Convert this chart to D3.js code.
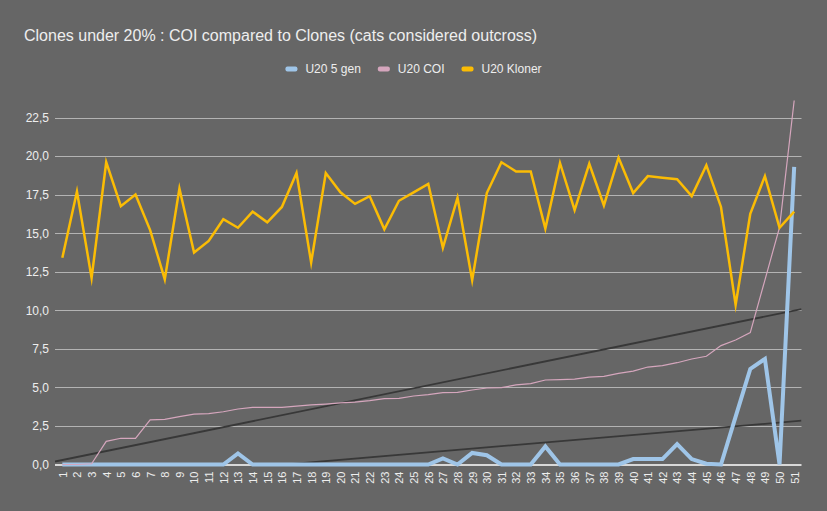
<!DOCTYPE html>
<html>
<head>
<meta charset="utf-8">
<script src="https://cdn.jsdelivr.net/npm/d3@7/dist/d3.min.js"></script>
<style>
  html, body { margin: 0; padding: 0; background: #666666; }
  svg { display: block; }
  text { font-family: "Liberation Sans", Arial, sans-serif; }
</style>
</head>
<body>
<svg id="chart" width="827" height="511"></svg>
<script>
const title = "Clones under 20% : COI compared to Clones (cats considered outcross)";
const categories = ["1","2","3","4","5","6","7","8","9","10","11","12","13","14","15","16","17","18","19","20","21","22","23","24","25","26","27","28","29","30","31","32","33","34","35","36","37","38","39","40","41","42","43","44","45","46","47","48","49","50","51"];
const seriesNames = ["U20 5 gen", "U20 COI", "U20 Kloner"];
const u20gen5 = [0,0,0,0,0,0,0,0,0,0,0,0,0.72,0,0,0,0,0,0,0,0,0,0,0,0,0,0.4,0,0.75,0.6,0,0,0,1.17,0,0,0,0,0,0.35,0.35,0.35,1.32,0.35,0.05,0,3.1,6.2,6.85,0,19.3];
const u20coi = [0,0,0.05,1.5,1.7,1.7,2.9,2.93,3.1,3.27,3.3,3.42,3.6,3.7,3.7,3.7,3.78,3.86,3.92,4.0,4.05,4.14,4.27,4.29,4.44,4.53,4.66,4.68,4.83,4.96,4.98,5.16,5.24,5.48,5.5,5.54,5.67,5.72,5.91,6.06,6.32,6.41,6.6,6.84,7.02,7.71,8.07,8.55,11.96,15.38,23.6];
const u20kloner = [13.4,17.7,12.1,19.6,16.75,17.5,15.2,12.0,17.9,13.75,14.5,15.9,15.35,16.4,15.7,16.7,18.9,13.1,18.9,17.65,16.9,17.4,15.25,17.1,17.65,18.2,14.05,17.3,11.95,17.6,19.6,19.0,19.0,15.3,19.55,16.5,19.5,16.8,19.9,17.6,18.7,18.6,18.5,17.4,19.4,16.7,10.35,16.25,18.7,15.35,16.4];
// linear trendlines: values at first and last category
const trendCoi = [0.29, 9.98];
const trendGen5 = [-1.23, 2.80];
const yTicks = [0, 2.5, 5, 7.5, 10, 12.5, 15, 17.5, 20, 22.5];

const colors = ["#9fc5e8", "#d5a6bd", "#fbbc04"];
const widths = [4, 1.2, 2.5];

const svg = d3.select("#chart");
const W = 827, H = 511;
const plot = { left: 55, right: 801.5, top: 117.5, bottom: 464.5 };

svg.append("rect").attr("width", W).attr("height", H).attr("fill", "#666666");

const x = d3.scalePoint().domain(categories).range([plot.left, plot.right]).padding(0.5);
const y = d3.scaleLinear().domain([0, 22.5]).range([plot.bottom, plot.top]);
const fmt = v => d3.format(".1f")(v).replace(".", ",");

// title
svg.append("text").attr("x", 24).attr("y", 41).attr("fill", "#eeeeee")
  .attr("font-size", 16).text(title);

// gridlines
svg.append("g").selectAll("line").data(yTicks.filter(t => t > 0)).join("line")
  .attr("x1", plot.left).attr("x2", plot.right)
  .attr("y1", d => Math.round(y(d)) + 0.5).attr("y2", d => Math.round(y(d)) + 0.5)
  .attr("stroke", "#b3b3b3").attr("stroke-width", 1);

// y axis labels
const yAxis = d3.axisLeft(y).tickValues(yTicks).tickFormat(fmt).tickSize(0).tickPadding(0);
const gy = svg.append("g").attr("transform", `translate(${plot.left - 6},0)`).call(yAxis);
gy.select(".domain").remove();
gy.selectAll("text").attr("fill", "#eeeeee").attr("font-size", 12)
  .attr("font-family", "'Liberation Sans', Arial, sans-serif");

// x axis
const xAxis = d3.axisBottom(x).tickSize(0).tickPadding(0);
const gx = svg.append("g").attr("transform", `translate(0,${plot.bottom})`).call(xAxis);
gx.select(".domain").remove();
gx.selectAll("text").attr("fill", "#eeeeee").attr("font-size", 11)
  .attr("font-family", "'Liberation Sans', Arial, sans-serif")
  .attr("text-anchor", "end")
  .attr("transform", "translate(0,7) rotate(-90)")
  .attr("x", 0).attr("y", 0).attr("dy", "0.35em");

// clip
svg.append("clipPath").attr("id", "clip").append("rect")
  .attr("x", plot.left).attr("y", 60).attr("width", plot.right - plot.left).attr("height", plot.bottom - 60);

// trendlines
const step = x.step();
const n = categories.length;
function trendSeg(ends) {
  const slope = (ends[1] - ends[0]) / (n - 1);
  const x0 = x(categories[0]) - step / 2, x1 = x(categories[n - 1]) + step / 2;
  const v0 = ends[0] - slope * 0.5, v1 = ends[1] + slope * 0.5;
  return [[x0, y(v0)], [x1, y(v1)]];
}
const tg = svg.append("g").attr("clip-path", "url(#clip)");
[trendCoi, trendGen5].forEach(t => {
  tg.append("path").attr("d", d3.line()(trendSeg(t)))
    .attr("fill", "none").attr("stroke", "#383838").attr("stroke-width", 1.8);
});

// baseline
svg.append("line").attr("x1", plot.left).attr("x2", plot.right)
  .attr("y1", plot.bottom + 0.5).attr("y2", plot.bottom + 0.5)
  .attr("stroke", "#ffffff").attr("stroke-width", 1.5);

// series
const allSeries = [u20gen5, u20coi, u20kloner];
const line = d3.line().x((d, i) => x(categories[i])).y(d => y(d));
allSeries.forEach((s, k) => {
  svg.append("path").datum(s).attr("d", line)
    .attr("fill", "none").attr("stroke", colors[k]).attr("stroke-width", widths[k])
    .attr("stroke-linejoin", "miter").attr("stroke-miterlimit", 10);
});

// legend
const lg = svg.append("g");
const items = seriesNames.map((name, k) => {
  const g = lg.append("g");
  g.append("rect").attr("width", 12).attr("height", 5).attr("rx", 2).attr("y", -2.5).attr("fill", colors[k]);
  const t = g.append("text").attr("x", 20).attr("dy", "0.35em").attr("font-size", 12)
    .attr("fill", "#eeeeee").text(name);
  return { g, w: 20 + t.node().getComputedTextLength() };
});
const gap = 17;
const total = d3.sum(items, d => d.w) + gap * (items.length - 1);
let cx = W / 2 - total / 2;
items.forEach(it => { it.g.attr("transform", `translate(${cx},69)`); cx += it.w + gap; });
</script>
</body>
</html>
